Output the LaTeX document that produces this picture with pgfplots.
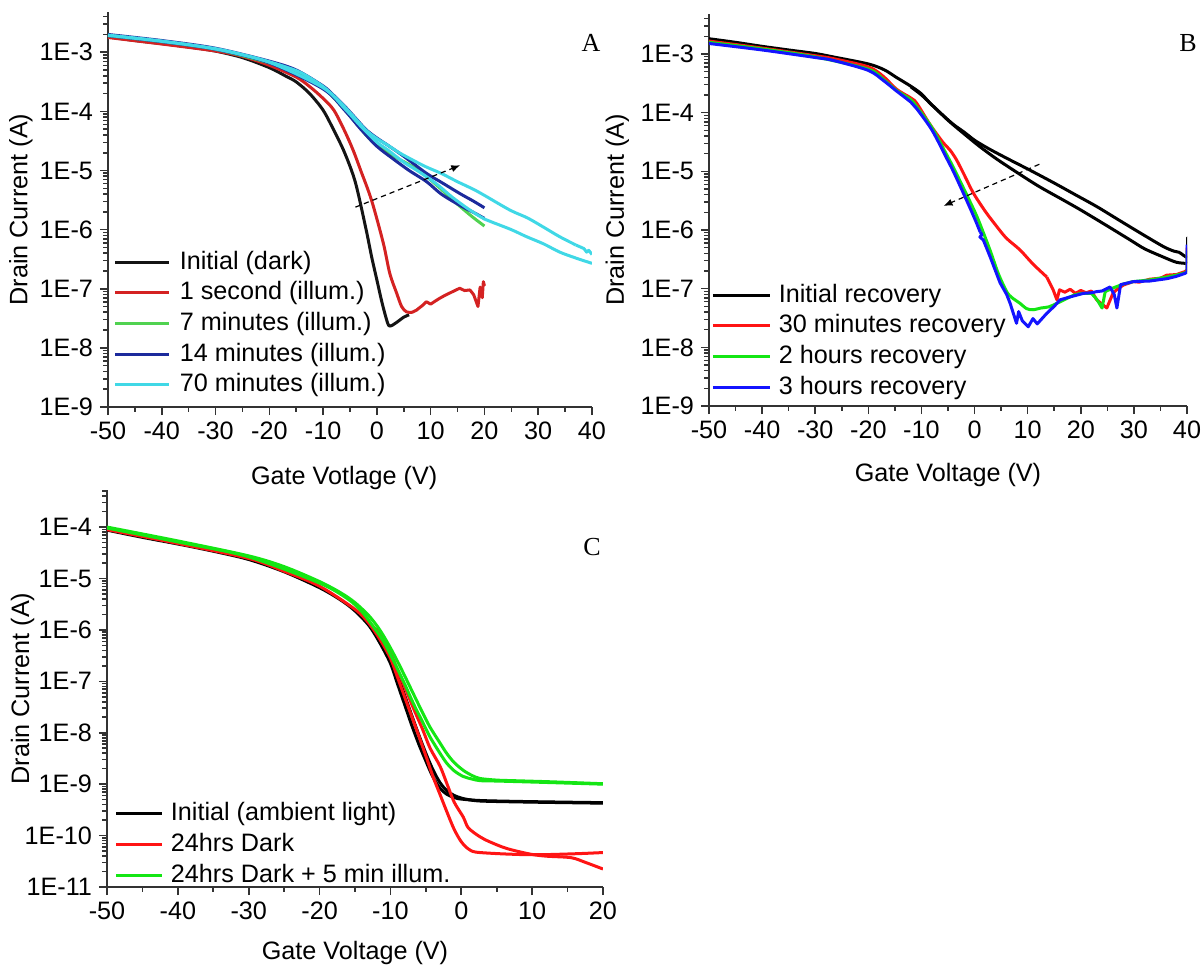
\documentclass[border=0pt]{standalone}
\usepackage{fontspec}
\setmainfont{Liberation Sans}
\newfontfamily\serifl{Liberation Serif}
\usepackage{pgfplots}
\pgfplotsset{compat=1.18}
\usetikzlibrary{arrows.meta}
\definecolor{axc}{HTML}{333333}
\definecolor{aBlack}{HTML}{141414}
\definecolor{aRed}{HTML}{D42222}
\definecolor{aGreen}{HTML}{50D250}
\definecolor{aBlue}{HTML}{1C2A9C}
\definecolor{aCyan}{HTML}{40D8E6}
\definecolor{bRed}{HTML}{FF1414}
\definecolor{bGreen}{HTML}{14E614}
\definecolor{bBlue}{HTML}{1414FF}
\newcommand\fs{\fontsize{12.6}{15}\selectfont}
\pgfplotsset{
 every axis/.append style={
  scale only axis,
  clip mode=individual,
  ymode=log,
  axis x line*=bottom,
  axis y line*=left,
  axis line style={line width=1pt, draw=axc},
  tick style={line width=0.8pt, draw=axc},
  tick align=outside,
  major tick length=4pt,
  minor tick length=2.3pt,
  tick label style={font=\fs, text=black},
  label style={font=\fs},
  legend cell align=left,
  legend style={draw=none, fill=none, inner sep=0pt, outer sep=0pt, row sep=3.15pt, font=\fs,
    nodes={inner sep=0pt, text height=9.6pt, text depth=2.6pt}},
 },
 every axis plot/.append style={line width=1.5pt, line join=round},
}
\begin{document}
\begin{tikzpicture}
% ================= Panel A =================
\begin{axis}[
  at={(54pt,279.5pt)}, anchor=south west,
  width=242pt, height=197.5pt,
  xmin=-50, xmax=40, ymin=1e-9, ymax=4.8e-3,
  xtick={-50,-40,-30,-20,-10,0,10,20,30,40},
  xticklabels={-50,-40,-30,-20,-10,0,10,20,30,40},
  minor xtick={-45,-35,-25,-15,-5,5,15,25,35},
  ytick={1e-9,1e-8,1e-7,1e-6,1e-5,1e-4,1e-3},
  yticklabels={1E-9,1E-8,1E-7,1E-6,1E-5,1E-4,1E-3},
  minor ytick={2e-9,3e-9,4e-9,5e-9,6e-9,7e-9,8e-9,9e-9,2e-8,3e-8,4e-8,5e-8,6e-8,7e-8,8e-8,9e-8,2e-7,3e-7,4e-7,5e-7,6e-7,7e-7,8e-7,9e-7,2e-6,3e-6,4e-6,5e-6,6e-6,7e-6,8e-6,9e-6,2e-5,3e-5,4e-5,5e-5,6e-5,7e-5,8e-5,9e-5,2e-4,3e-4,4e-4,5e-4,6e-4,7e-4,8e-4,9e-4,2e-3,3e-3,4e-3},
  xlabel={Gate Votlage (V)},
  ylabel={Drain Current (A)},
  xlabel style={at={(axis description cs:0.488,-0.18)}, anchor=center},
  ylabel style={at={(axis description cs:-0.18,0.5)}, anchor=center},
  legend style={at={(axis description cs:0.012,0.398)}, anchor=north west,
    /tikz/every odd column/.append style={column sep=4.5pt}},
  legend image code/.code={\draw[#1] (0pt,0pt) -- (27pt,0pt);},
]
\addplot[aBlack, smooth] coordinates {
(-50,1.82e-3)(-45,1.58e-3)(-40,1.40e-3)(-35,1.23e-3)(-30,1.047e-3)(-25,8.13e-4)(-20,5.50e-4)
(-17,3.98e-4)(-15,3.16e-4)(-12.5,2.00e-4)(-10,1.05e-4)(-8,4.79e-5)(-6,2.00e-5)(-4,6.31e-6)
(-2,1.0e-6)(-1,3.55e-7)(0,1.41e-7)(1,5.62e-8)(2,2.63e-8)(2.5,2.34e-8)(3.5,2.63e-8)(5,3.31e-8)(6,3.63e-8)};
\addlegendentry{Initial (dark)}
\addplot[aRed, smooth] coordinates {
(-50,1.78e-3)(-40,1.38e-3)(-30,1.05e-3)(-25,8.51e-4)(-20,6.03e-4)(-15,3.80e-4)(-12.5,2.63e-4)
(-10,1.66e-4)(-8,1.05e-4)(-6,4.68e-5)(-4.4,2.19e-5)(-3,1.0e-5)(-1,3.16e-6)(1.2,5.89e-7)
(2.4,1.82e-7)(3.7,8.32e-8)(4.6,5.01e-8)(5.5,4.07e-8)(6.5,3.98e-8)};
\addlegendentry{1 second (illum.)}
\addplot[aRed, forget plot] coordinates {
(6.5,3.98e-8)(7.4,4.37e-8)(8.5,5.25e-8)
(9.2,6.03e-8)(10,5.50e-8)(11,6.31e-8)(11.7,6.92e-8)(12.5,7.59e-8)(13.6,8.51e-8)(14.5,9.33e-8)
(15.4,1.02e-7)(16.3,9.33e-8)(17.3,9.55e-8)(18,7.94e-8)(18.8,5.01e-8)(19.2,1.07e-7)(19.6,7.08e-8)
(19.8,1.32e-7)(20,1.12e-7)};
\addplot[aGreen, smooth] coordinates {
(-50,1.91e-3)(-40,1.51e-3)(-30,1.12e-3)(-20,6.61e-4)(-15,4.68e-4)(-10,2.51e-4)(-8,1.70e-4)
(-6,1.07e-4)(-4,6.61e-5)(-2,3.98e-5)(0,2.63e-5)(2.4,1.95e-5)(4,1.58e-5)(6,1.26e-5)(8,9.55e-6)
(10,6.92e-6)(12,4.79e-6)(14,3.24e-6)(16,2.24e-6)(18,1.58e-6)(20,1.15e-6)};
\addlegendentry{7 minutes (illum.)}
\addplot[aBlue, smooth] coordinates {
(-50,2.00e-3)(-40,1.58e-3)(-30,1.17e-3)(-20,7.08e-4)(-15,5.01e-4)(-10,2.69e-4)(-8,1.86e-4)
(-6,1.23e-4)(-4,7.76e-5)(-2,4.90e-5)(0,3.55e-5)(2,2.69e-5)(5,1.74e-5)(9.26,8.91e-6)(12,6.31e-6)
(15.45,4.07e-6)(18,3.02e-6)(20,2.34e-6)};
\addlegendentry{14 minutes (illum.)}
\addplot[aBlue, smooth, forget plot] coordinates {
(20,1.55e-6)(18,1.95e-6)(15.45,2.57e-6)(12,3.98e-6)(9.26,6.46e-6)(6,1.0e-5)(3,1.58e-5)(0,2.57e-5)
(-3,5.01e-5)(-6,1.05e-4)(-10,2.40e-4)(-20,6.61e-4)(-30,1.12e-3)(-40,1.51e-3)(-50,1.91e-3)};
\addplot[aCyan, smooth] coordinates {
(-50,1.95e-3)(-40,1.55e-3)(-30,1.15e-3)(-25,9.12e-4)(-20,6.92e-4)(-15,4.90e-4)(-12.5,3.72e-4)
(-10,2.63e-4)(-8,1.82e-4)(-6,1.20e-4)(-4,7.59e-5)(-2,4.79e-5)(0,3.47e-5)(2,2.69e-5)(4,2.04e-5)
(6,1.62e-5)(9,1.17e-5)(12,8.91e-6)(15,6.46e-6)(18,4.79e-6)(20,3.80e-6)(24.75,2.14e-6)(28,1.58e-6)
(31,1.10e-6)(34,7.59e-7)(37,5.50e-7)};
\addlegendentry{70 minutes (illum.)}
\addplot[aCyan, forget plot] coordinates {
(37,5.50e-7)(38.5,4.79e-7)(39,4.17e-7)(39.4,4.47e-7)(40,3.80e-7)};
\addplot[aCyan, smooth, forget plot] coordinates {
(40,2.69e-7)(37,3.31e-7)(34,4.17e-7)(31,5.75e-7)(27.85,7.59e-7)(25,1.0e-6)(21.6,1.32e-6)
(20,1.51e-6)(17,2.24e-6)(14,3.55e-6)(11,6.03e-6)(8,9.33e-6)(5,1.38e-5)(2,2.24e-5)(0,3.02e-5)
(-3,5.62e-5)(-6,1.12e-4)(-10,2.51e-4)(-20,6.76e-4)(-30,1.135e-3)(-40,1.53e-3)(-50,1.93e-3)};
\draw[dashed, dash pattern=on 2.6pt off 2pt, line width=0.6pt, -{Latex[length=4.5pt,width=3.6pt]}]
  (axis cs:-4,2.4e-6) -- (axis cs:15.5,1.23e-5);
\node[font=\serifl\fontsize{13}{15}\selectfont] at (axis description cs:0.998,0.922) {A};
\end{axis}
% ================= Panel B =================
\begin{axis}[
  at={(354.5pt,280pt)}, anchor=south west,
  width=239pt, height=196pt,
  xmin=-50, xmax=40, ymin=1e-9, ymax=4.8e-3,
  xtick={-50,-40,-30,-20,-10,0,10,20,30,40},
  xticklabels={-50,-40,-30,-20,-10,0,10,20,30,40},
  minor xtick={-45,-35,-25,-15,-5,5,15,25,35},
  ytick={1e-9,1e-8,1e-7,1e-6,1e-5,1e-4,1e-3},
  yticklabels={1E-9,1E-8,1E-7,1E-6,1E-5,1E-4,1E-3},
  minor ytick={2e-9,3e-9,4e-9,5e-9,6e-9,7e-9,8e-9,9e-9,2e-8,3e-8,4e-8,5e-8,6e-8,7e-8,8e-8,9e-8,2e-7,3e-7,4e-7,5e-7,6e-7,7e-7,8e-7,9e-7,2e-6,3e-6,4e-6,5e-6,6e-6,7e-6,8e-6,9e-6,2e-5,3e-5,4e-5,5e-5,6e-5,7e-5,8e-5,9e-5,2e-4,3e-4,4e-4,5e-4,6e-4,7e-4,8e-4,9e-4,2e-3,3e-3,4e-3},
  xlabel={Gate Voltage (V)},
  ylabel={Drain Current (A)},
  xlabel style={at={(axis description cs:0.5,-0.176)}, anchor=center},
  ylabel style={at={(axis description cs:-0.192,0.5)}, anchor=center},
  legend style={at={(axis description cs:0.005,0.314)}, anchor=north west,
    /tikz/every odd column/.append style={column sep=3.5pt}},
  legend image code/.code={\draw[#1] (0pt,0pt) -- (28.7pt,0pt);},
]
\addplot[black, smooth] coordinates {
(-50,1.82e-3)(-45,1.58e-3)(-40,1.35e-3)(-35,1.17e-3)(-30,1.02e-3)(-26.6,8.91e-4)(-20,6.76e-4)
(-17,5.37e-4)(-14.7,3.98e-4)(-12,2.82e-4)(-10,2.09e-4)(-8.4,1.45e-4)(-6,9.12e-5)
(-4,6.31e-5)(-2,4.68e-5)(0,3.39e-5)(2,2.63e-5)(4,2.09e-5)(7,1.51e-5)(10.4,1.05e-5)(15,6.31e-6)
(19,3.98e-6)(23,2.51e-6)(27,1.51e-6)(31,9.12e-7)(35.5,5.25e-7)(37.5,4.37e-7)(38.5,4.17e-7)
(39.3,3.72e-7)(40,3.39e-7)};
\addlegendentry{Initial recovery}
\addplot[black, forget plot] coordinates {(40,3.39e-7)(40,7.41e-7)(40,2.69e-7)};
\addplot[black, smooth, forget plot] coordinates {
(40,2.69e-7)(38,2.82e-7)(35.5,3.47e-7)(32,4.79e-7)(29.3,6.76e-7)(25,1.17e-6)(20,2.19e-6)(16.7,3.24e-6)
(12,5.62e-6)(7.3,1.05e-5)(4,1.66e-5)(1,2.63e-5)(-2,4.37e-5)(-5,7.41e-5)(-8,1.35e-4)(-10,2.00e-4)(-12,2.75e-4)};
\addplot[bRed, smooth] coordinates {
(-50,1.66e-3)(-40,1.26e-3)(-30,9.33e-4)(-26.6,8.32e-4)(-20,6.03e-4)(-17.2,4.17e-4)(-14.7,2.51e-4)
(-12,1.78e-4)(-10.9,1.45e-4)(-8.4,6.31e-5)(-6,3.16e-5)(-4.6,2.29e-5)(-3.36,1.55e-5)(-2,8.91e-6)
(-0.23,4.27e-6)(2,2.09e-6)(4.17,1.15e-6)(6,7.24e-7)(8.56,4.57e-7)(11,2.63e-7)(13.6,1.58e-7)};
\addlegendentry{30 minutes recovery}
\addplot[bRed, forget plot] coordinates {
(13.6,1.58e-7)(14.8,9.55e-8)(15.5,6.46e-8)(16,9.55e-8)(17,8.71e-8)(18,9.77e-8)(19,8.32e-8)(20,9.33e-8)
(21,8.51e-8)(22,9.12e-8)(23,6.46e-8)(24.9,4.68e-8)(26.1,8.51e-8)(27,1.0e-7)(28,1.15e-7)
(29.9,1.32e-7)(31,1.29e-7)(33,1.45e-7)(35,1.51e-7)(36.2,1.70e-7)(38,1.74e-7)(39.6,1.95e-7)
(40,2.09e-7)(40,5.01e-7)};
\addplot[bGreen, smooth] coordinates {
(-50,1.58e-3)(-40,1.22e-3)(-30,8.91e-4)(-20,5.50e-4)(-17.2,3.72e-4)(-14.7,2.40e-4)(-12,1.66e-4)
(-10.9,1.26e-4)(-8,5.50e-5)(-5.24,1.91e-5)(-4,1.17e-5)(-2.12,5.25e-6)(0,2.09e-6)(1.03,1.26e-6)
(2.9,4.57e-7)(4.5,1.78e-7)(6.05,8.91e-8)(7,7.08e-8)(8.56,5.62e-8)(9.8,4.57e-8)(11,4.37e-8)
(12.5,4.68e-8)(14,4.90e-8)(15.5,5.62e-8)(17.3,6.76e-8)(19,7.94e-8)(20.5,8.32e-8)(22,8.32e-8)};
\addlegendentry{2 hours recovery}
\addplot[bGreen, forget plot] coordinates {
(22,8.32e-8)(23,6.61e-8)(24,4.68e-8)(24.6,8.91e-8)(26,1.02e-7)(28,1.20e-7)(29.9,1.32e-7)(33,1.41e-7)
(36.2,1.58e-7)(38,1.70e-7)(39.6,1.86e-7)(40,1.91e-7)(40,4.47e-7)};
\addplot[bBlue, smooth] coordinates {
(-50,1.51e-3)(-40,1.17e-3)(-30,8.71e-4)(-26.6,7.76e-4)(-20,5.25e-4)(-17.2,3.55e-4)(-14.7,2.34e-4)
(-12,1.51e-4)(-10.9,1.17e-4)(-8,5.01e-5)(-5.24,1.66e-5)(-4,1.0e-5)(-2.12,4.27e-6)(0,1.58e-6)
(1.03,9.33e-7)};
\addlegendentry{3 hours recovery}
\addplot[bBlue, forget plot] coordinates {
(1.03,9.33e-7)(1.4,8.32e-7)(1.0,7.59e-7)(1.65,6.76e-7)(2.9,3.55e-7)(4.8,1.26e-7)(6.05,7.94e-8)
(6.7,5.62e-8)(7.9,2.57e-8)(8.3,4.07e-8)(9,2.82e-8)(10.1,2.24e-8)(11,3.09e-8)(11.8,2.51e-8)
(13,3.31e-8)(13.6,3.80e-8)(15,5.01e-8)(16.1,6.46e-8)(18,7.24e-8)(20.5,8.32e-8)(22,8.51e-8)
(23,8.91e-8)(24,9.12e-8)(25.5,1.07e-7)(26.3,7.94e-8)(26.8,4.68e-8)(27.5,1.17e-7)(29.9,1.32e-7)
(33,1.35e-7)(36.2,1.48e-7)(38,1.62e-7)(39.6,1.82e-7)(40,1.91e-7)(40,5.62e-7)};
\draw[dashed, dash pattern=on 2.6pt off 2pt, line width=0.6pt, -{Latex[length=4.5pt,width=3.6pt]}]
  (axis cs:12.2,1.32e-5) -- (axis cs:-5.85,2.57e-6);
\node[font=\serifl\fontsize{13}{15}\selectfont] at (axis description cs:1.002,0.926) {B};
\end{axis}
% ================= Panel C =================
\begin{axis}[
  at={(53.5pt,39.5pt)}, anchor=south west,
  width=248pt, height=198.5pt,
  xmin=-50, xmax=20, ymin=1e-11, ymax=5.25e-4,
  xtick={-50,-40,-30,-20,-10,0,10,20},
  xticklabels={-50,-40,-30,-20,-10,0,10,20},
  minor xtick={-45,-35,-25,-15,-5,5,15},
  ytick={1e-11,1e-10,1e-9,1e-8,1e-7,1e-6,1e-5,1e-4},
  yticklabels={1E-11,1E-10,1E-9,1E-8,1E-7,1E-6,1E-5,1E-4},
  minor ytick={2e-11,3e-11,4e-11,5e-11,6e-11,7e-11,8e-11,9e-11,2e-10,3e-10,4e-10,5e-10,6e-10,7e-10,8e-10,9e-10,2e-9,3e-9,4e-9,5e-9,6e-9,7e-9,8e-9,9e-9,2e-8,3e-8,4e-8,5e-8,6e-8,7e-8,8e-8,9e-8,2e-7,3e-7,4e-7,5e-7,6e-7,7e-7,8e-7,9e-7,2e-6,3e-6,4e-6,5e-6,6e-6,7e-6,8e-6,9e-6,2e-5,3e-5,4e-5,5e-5,6e-5,7e-5,8e-5,9e-5,2e-4,3e-4,4e-4,5e-4},
  xlabel={Gate Voltage (V)},
  ylabel={Drain Current (A)},
  xlabel style={at={(axis description cs:0.5,-0.166)}, anchor=center},
  ylabel style={at={(axis description cs:-0.170,0.5)}, anchor=center},
  legend style={at={(axis description cs:0.016,0.215)}, anchor=north west,
    /tikz/every odd column/.append style={column sep=3.5pt}},
  legend image code/.code={\draw[#1] (0pt,0pt) -- (23pt,0pt);},
]
\addplot[black, smooth] coordinates {
(-50,8.71e-5)(-45,6.31e-5)(-40,4.68e-5)(-35,3.39e-5)(-30,2.34e-5)(-25,1.35e-5)(-20,6.61e-6)
(-17,3.80e-6)(-15,2.34e-6)(-13,1.20e-6)(-11.5,5.62e-7)(-10,2.24e-7)(-9,8.91e-8)(-8,3.55e-8)
(-7,1.41e-8)(-6,6.03e-9)(-5,2.82e-9)(-4,1.38e-9)(-3,8.32e-10)(-2,6.31e-10)(-1,5.50e-10)
(0,5.13e-10)(3,4.79e-10)(10,4.57e-10)(20,4.37e-10)};
\addlegendentry{Initial (ambient light)}
\addplot[black, smooth, forget plot] coordinates {
(20,4.27e-10)(10,4.47e-10)(3,4.68e-10)(1,5.01e-10)(0,5.37e-10)(-1,6.03e-10)(-2,7.41e-10)
(-3,1.07e-9)(-4,1.91e-9)(-5,3.98e-9)(-6,9.12e-9)(-7,2.19e-8)(-8,5.37e-8)(-9,1.32e-7)
(-10,3.16e-7)(-11.5,7.08e-7)(-13,1.26e-6)};
\addplot[bRed, smooth] coordinates {
(-50,8.91e-5)(-40,4.79e-5)(-30,2.45e-5)(-25,1.38e-5)(-20,7.08e-6)(-15,2.51e-6)(-13,1.32e-6)
(-11.5,6.61e-7)(-10,2.82e-7)(-9,1.20e-7)(-8,5.01e-8)(-7,2.09e-8)(-6,8.71e-9)(-5,3.55e-9)
(-4,1.41e-9)(-3,6.31e-10)(-2,2.82e-10)(-1,1.32e-10)(0,7.59e-11)(1,5.50e-11)(2,4.79e-11)
(5,4.47e-11)(8.75,4.27e-11)(12,4.27e-11)(16.75,4.47e-11)(20,4.68e-11)};
\addlegendentry{24hrs Dark}
\addplot[bRed, smooth, forget plot] coordinates {
(20,2.24e-11)(17.5,3.02e-11)(15.5,3.72e-11)(12,3.98e-11)(9.7,4.37e-11)(6.4,5.62e-11)
(4,7.59e-11)(2.6,9.55e-11)(1,1.41e-10)(0.28,2.29e-10)(-1,4.47e-10)(-2,1.0e-9)(-3,2.24e-9)
(-4.4,5.01e-9)(-5.5,1.20e-8)(-6.8,3.09e-8)(-8,7.94e-8)(-9,1.66e-7)(-10,3.55e-7)(-11.5,8.32e-7)
(-13,1.38e-6)};
\addplot[bGreen, smooth] coordinates {
(-50,1.00e-4)(-40,5.37e-5)(-30,2.75e-5)(-25,1.70e-5)(-20,8.71e-6)(-17,5.25e-6)(-15,3.39e-6)
(-13,1.86e-6)(-11.5,1.0e-6)(-10,4.47e-7)(-8.5,1.78e-7)(-6.77,5.75e-8)(-5.5,2.51e-8)
(-4.42,1.29e-8)(-3,6.31e-9)(-2.06,3.98e-9)(-1,2.63e-9)(0.28,1.86e-9)(1.5,1.48e-9)(2.64,1.29e-9)
(5,1.20e-9)(7.34,1.17e-9)(12,1.12e-9)(16,1.07e-9)(20,1.02e-9)};
\addlegendentry{24hrs Dark + 5 min illum.}
\addplot[bGreen, smooth, forget plot] coordinates {
(20,1.00e-9)(10,1.10e-9)(5,1.15e-9)(2.64,1.17e-9)(1.5,1.26e-9)(0.28,1.41e-9)(-1,1.82e-9)
(-2.06,2.57e-9)(-3,3.98e-9)(-4.42,8.32e-9)(-5.5,1.66e-8)(-6.77,3.72e-8)(-8,8.91e-8)
(-9.5,2.40e-7)(-11,6.03e-7)(-12.5,1.20e-6)(-14,2.24e-6)(-16,3.98e-6)(-20,8.13e-6)(-30,2.63e-5)
(-40,5.13e-5)(-50,9.55e-5)};
\node[font=\serifl\fontsize{13}{15}\selectfont] at (axis description cs:0.978,0.856) {C};
\end{axis}
\pgfresetboundingbox
\path (0,0) rectangle (601.5pt,483pt);
\end{tikzpicture}
\end{document}
